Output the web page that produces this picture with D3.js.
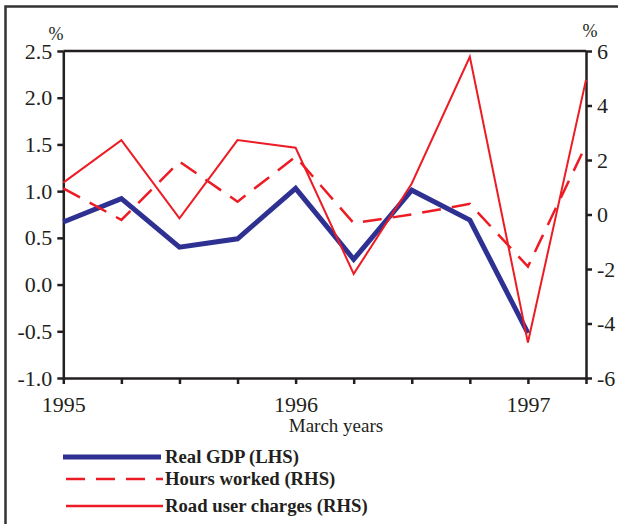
<!DOCTYPE html>
<html>
<head>
<meta charset="utf-8">
<script src="https://cdn.jsdelivr.net/npm/d3@7"></script>
<style>
  html, body { margin: 0; padding: 0; background: #fff; }
  svg { display: block; }
  text { font-family: "Liberation Serif", "DejaVu Serif", serif; fill: #231f20; }
</style>
</head>
<body>
<script>
// ---- data ----
const quarters = [1995, 1995.25, 1995.5, 1995.75, 1996, 1996.25, 1996.5, 1996.75, 1997, 1997.25];
const gdp   = [0.67, 0.92, 0.40, 0.49, 1.03, 0.27, 1.01, 0.69, -0.52, null];
const hours = [0.96, -0.20, 1.94, 0.47, 2.12, -0.32, 0.00, 0.39, -1.91, 2.55];
const road  = [1.17, 2.73, -0.14, 2.73, 2.45, -2.18, 1.14, 5.79, -4.70, 4.94];
const leftTicks  = [-1.0, -0.5, 0.0, 0.5, 1.0, 1.5, 2.0, 2.5];
const rightTicks = [-6, -4, -2, 0, 2, 4, 6];
const yearTicks  = [1995, 1996, 1997];
const seriesNames = ["Real GDP (LHS)", "Hours worked (RHS)", "Road user charges (RHS)"];
const xLabel = "March years";

const W = 618, H = 524;
const L = 63.3, R = 586, T = 51, B = 378;
const blue = "#2e3192", red = "#ed1c24", ink = "#231f20";

const svg = d3.select("body").append("svg").attr("width", W).attr("height", H);

// outer frame (left and top edges)
svg.append("path").attr("d", `M5.5,524 V6.5 H618`).attr("fill", "none")
   .attr("stroke", "#333").attr("stroke-width", 2.5);

const x = d3.scaleLinear().domain([1995, 1997.25]).range([L, R]);
const yL = d3.scaleLinear().domain([-1, 2.5]).range([B, T]);
const yR = d3.scaleLinear().domain([-6, 6]).range([B, T]);

const loc = d3.formatLocale({decimal: ".", thousands: ",", grouping: [3], currency: ["", ""], minus: "-"});
const f1 = loc.format(".1f"), f0 = loc.format("d");

// plot box top line
svg.append("line").attr("x1", L).attr("x2", R).attr("y1", T).attr("y2", T)
   .attr("stroke", ink).attr("stroke-width", 2.5);

// axes
const axL = svg.append("g").attr("transform", `translate(${L},0)`)
  .call(d3.axisLeft(yL).tickValues(leftTicks).tickFormat(f1).tickSize(6).tickSizeOuter(0).tickPadding(5));
const axR = svg.append("g").attr("transform", `translate(${R},0)`)
  .call(d3.axisRight(yR).tickValues(rightTicks).tickFormat(f0).tickSize(6).tickSizeOuter(0).tickPadding(5));
const axB = svg.append("g").attr("transform", `translate(0,${B})`)
  .call(d3.axisBottom(x).tickValues(quarters).tickFormat(d => yearTicks.includes(d) ? String(d) : "")
        .tickSize(6).tickSizeOuter(0).tickPadding(12));
[axL, axR, axB].forEach(g => {
  g.attr("font-family", null);
  g.select(".domain").attr("stroke", ink).attr("stroke-width", 2.5);
  g.selectAll(".tick line").attr("stroke", ink).attr("stroke-width", 2.5);
  g.selectAll("text").attr("font-size", 22).attr("fill", ink)
   .style("font-family", "'Liberation Serif', serif");
});

// % labels
svg.append("text").attr("x", 56).attr("y", 40).attr("text-anchor", "middle").attr("font-size", 18).text("%");
svg.append("text").attr("x", 590).attr("y", 37).attr("text-anchor", "middle").attr("font-size", 18).text("%");

// x axis title
svg.append("text").attr("x", 336).attr("y", 432).attr("text-anchor", "middle").attr("font-size", 19).text(xLabel);

// lines
const mk = (ys) => d3.line().defined(d => d[1] !== null).x(d => x(d[0])).y(d => ys(d[1]));
const pts = arr => quarters.map((q, i) => [q, arr[i]]);

svg.append("path").datum(pts(gdp)).attr("d", mk(yL)).attr("fill", "none")
   .attr("stroke", blue).attr("stroke-width", 5).attr("stroke-linejoin", "miter");
svg.append("path").datum(pts(hours)).attr("d", mk(yR)).attr("fill", "none")
   .attr("stroke", red).attr("stroke-width", 2.5).attr("stroke-dasharray", "19,11");
svg.append("path").datum(pts(road)).attr("d", mk(yR)).attr("fill", "none")
   .attr("stroke", red).attr("stroke-width", 2);

// legend
const leg = [
  {name: seriesNames[0], color: blue, w: 5, dash: null, y: 457, x1: 63, x2: 161},
  {name: seriesNames[1], color: red, w: 2.5, dash: "19,11", y: 479, x1: 66, x2: 163},
  {name: seriesNames[2], color: red, w: 2.5, dash: null, y: 506, x1: 66, x2: 163}
];
leg.forEach(d => {
  svg.append("text").attr("x", 165).attr("y", d.y + 6).attr("font-size", 18.7)
     .attr("font-weight", "bold").text(d.name);
  svg.append("line").attr("x1", d.x1).attr("x2", d.x2).attr("y1", d.y).attr("y2", d.y)
     .attr("stroke", d.color).attr("stroke-width", d.w).attr("stroke-dasharray", d.dash);
});
</script>
</body>
</html>
